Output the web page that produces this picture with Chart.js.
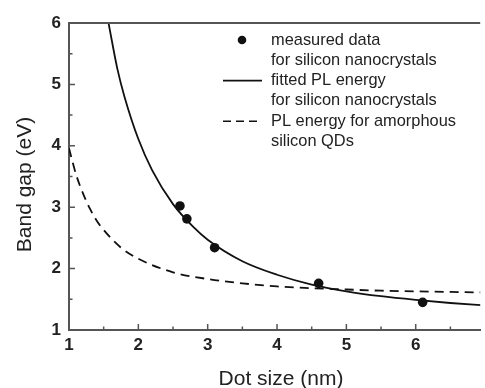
<!DOCTYPE html>
<html lang="en">
  <head>
    <meta charset="UTF-8" />
    <title>Band gap vs dot size</title>
    <script src="https://cdn.jsdelivr.net/npm/chart.js"></script>
    <style>
      body { margin: 0; background: #fff; }
      #wrap { width: 485px; height: 388px; overflow: hidden; }
    </style>
  </head>
  <body>
    <div id="wrap"><canvas id="gapChart" width="485" height="388"></canvas></div>

    <script>
      // axis ticks
      const xTicks = [1, 2, 3, 4, 5, 6];
      const xMinor = [1.5, 2.5, 3.5, 4.5, 5.5, 6.5];
      const yTicks = [1, 2, 3, 4, 5, 6];
      const yMinor = [1.5, 2.5, 3.5, 4.5, 5.5];

      // measured PL peaks, silicon nanocrystals
      const sizeMeasured = [2.6, 2.7, 3.1, 4.6, 6.1];
      const gapMeasured = [3.02, 2.81, 2.34, 1.76, 1.45];

      // fitted PL energy, nanocrystals
      const sizeFit = [1.57, 1.7, 1.8, 2.0, 2.2, 2.5, 2.8, 3.0, 3.5, 4.0, 4.5, 5.0, 5.5, 6.0, 6.5, 7.0];
      const gapFit = [6.0, 5.24, 4.8, 4.11, 3.6, 3.05, 2.67, 2.47, 2.12, 1.9, 1.74, 1.63, 1.55, 1.49, 1.44, 1.4];

      // PL energy, amorphous silicon QDs
      const sizeAmorph = [1.0, 1.1, 1.2, 1.3, 1.4, 1.5, 1.75, 2.0, 2.5, 3.0, 3.5, 4.0, 4.5, 5.0, 5.5, 6.0, 6.5, 7.0];
      const gapAmorph = [3.96, 3.54, 3.23, 2.98, 2.78, 2.63, 2.34, 2.16, 1.94, 1.83, 1.76, 1.71, 1.68, 1.66, 1.64, 1.63, 1.62, 1.61];

      const legendLines = [
        "measured data",
        "for silicon nanocrystals",
        "fitted PL energy",
        "for silicon nanocrystals",
        "PL energy for amorphous",
        "silicon QDs",
      ];

      const toPoints = (xs, ys) => xs.map((x, i) => ({ x: x, y: ys[i] }));

      const frameColor = "#555";
      const inkColor = "#111";
      const textColor = "#222";
      const fontFamily = "'Liberation Sans', Arial, sans-serif";

      // frame top edge, inward tick marks, axis titles and the legend
      const framePlugin = {
        id: "frame",
        afterDraw(chart) {
          const ctx = chart.ctx;
          const area = chart.chartArea;
          const xs = chart.scales.x;
          const ys = chart.scales.y;
          ctx.save();
          ctx.strokeStyle = frameColor;
          ctx.lineWidth = 2;
          ctx.beginPath();
          ctx.moveTo(area.left - 1, area.top);
          ctx.lineTo(area.right, area.top);
          ctx.stroke();

          ctx.lineWidth = 1.5;
          ctx.beginPath();
          xTicks.forEach((v) => {
            const p = xs.getPixelForValue(v);
            ctx.moveTo(p, area.bottom);
            ctx.lineTo(p, area.bottom - 6);
          });
          xMinor.forEach((v) => {
            const p = xs.getPixelForValue(v);
            ctx.moveTo(p, area.bottom);
            ctx.lineTo(p, area.bottom - 3.5);
          });
          yTicks.forEach((v) => {
            const p = ys.getPixelForValue(v);
            ctx.moveTo(area.left, p);
            ctx.lineTo(area.left + 6, p);
          });
          yMinor.forEach((v) => {
            const p = ys.getPixelForValue(v);
            ctx.moveTo(area.left, p);
            ctx.lineTo(area.left + 3.5, p);
          });
          ctx.stroke();

          // axis titles
          ctx.fillStyle = textColor;
          ctx.font = "21px " + fontFamily;
          ctx.textAlign = "center";
          ctx.textBaseline = "alphabetic";
          ctx.fillText("Dot size (nm)", 281, 385);
          ctx.save();
          ctx.translate(31, 184.5);
          ctx.rotate(-Math.PI / 2);
          ctx.fillText("Band gap (eV)", 0, 0);
          ctx.restore();

          // legend
          const lx = 223, tx = 271, row = 20.3, y0 = 40;
          ctx.fillStyle = inkColor;
          ctx.beginPath();
          ctx.arc(242, y0, 4.3, 0, Math.PI * 2);
          ctx.fill();
          ctx.strokeStyle = inkColor;
          ctx.lineWidth = 1.6;
          ctx.beginPath();
          ctx.moveTo(lx, y0 + row * 2);
          ctx.lineTo(262, y0 + row * 2);
          ctx.stroke();
          ctx.setLineDash([8, 5]);
          ctx.beginPath();
          ctx.moveTo(lx, y0 + row * 4);
          ctx.lineTo(262, y0 + row * 4);
          ctx.stroke();
          ctx.setLineDash([]);

          ctx.font = "16.4px " + fontFamily;
          ctx.fillStyle = textColor;
          ctx.textBaseline = "middle";
          ctx.textAlign = "left";
          legendLines.forEach((t, i) => ctx.fillText(t, tx, y0 + row * i));
          ctx.restore();
        },
      };

      const tickFont = { family: fontFamily, size: 17, weight: "bold" };

      new Chart(document.getElementById("gapChart"), {
        type: "scatter",
        data: {
          datasets: [
            {
              label: "measured data for silicon nanocrystals",
              data: toPoints(sizeMeasured, gapMeasured),
              pointRadius: 4.8,
              pointBackgroundColor: inkColor,
              pointBorderColor: inkColor,
              pointBorderWidth: 0,
              order: 0,
            },
            {
              label: "fitted PL energy for silicon nanocrystals",
              data: toPoints(sizeFit, gapFit),
              showLine: true,
              borderColor: inkColor,
              borderWidth: 1.8,
              pointRadius: 0,
              cubicInterpolationMode: "monotone",
              order: 1,
            },
            {
              label: "PL energy for amorphous silicon QDs",
              data: toPoints(sizeAmorph, gapAmorph),
              showLine: true,
              borderColor: inkColor,
              borderWidth: 1.8,
              borderDash: [9, 6],
              pointRadius: 0,
              cubicInterpolationMode: "monotone",
              order: 2,
            },
          ],
        },
        options: {
          responsive: false,
          animation: false,
          layout: { padding: { top: 23, right: 0, left: 0, bottom: 0 } },
          plugins: { legend: { display: false }, tooltip: { enabled: false } },
          scales: {
            x: {
              type: "linear",
              min: 1,
              max: 6.93,
              afterBuildTicks: (scale) => { scale.ticks = xTicks.map((v) => ({ value: v })); },
              afterFit: (scale) => { scale.height = 58; },
              grid: { display: false, drawTicks: false },
              border: { display: true, color: frameColor, width: 2 },
              ticks: { font: tickFont, color: textColor, padding: 5, maxRotation: 0 },
            },
            y: {
              type: "linear",
              min: 1,
              max: 6,
              afterBuildTicks: (scale) => { scale.ticks = yTicks.map((v) => ({ value: v })); },
              afterFit: (scale) => { scale.width = 69; },
              grid: { display: false, drawTicks: false },
              border: { display: true, color: frameColor, width: 2 },
              ticks: { font: tickFont, color: textColor, padding: 8 },
            },
          },
        },
        plugins: [framePlugin],
      });
    </script>
  </body>
</html>
